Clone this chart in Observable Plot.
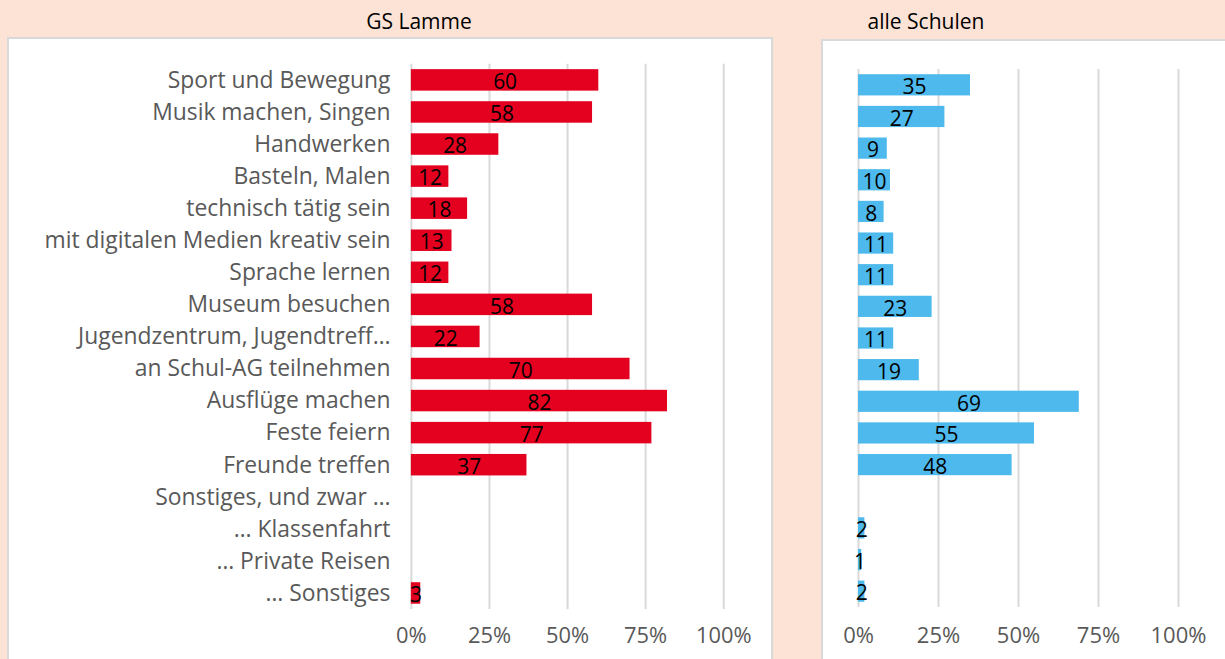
<!DOCTYPE html>
<html>
<head>
<meta charset="utf-8">
<script src="https://cdn.jsdelivr.net/npm/d3@7"></script>
<script src="https://cdn.jsdelivr.net/npm/@observablehq/plot@0.6"></script>
<style>
  html, body { margin: 0; padding: 0; }
  body { width: 1225px; height: 659px; background: #fde3d6; overflow: hidden; position: relative; font-family: "Open Sans", "Noto Sans", sans-serif; }
  .title { position: absolute; top: 7px; font-size: 21px; color: #000; transform: translateX(-50%); white-space: nowrap; }
  .panel { position: absolute; background: #fff; border: 2px solid #d9d9d9; box-sizing: border-box; overflow: hidden; }
  .panel svg { position: absolute; left: -2px; top: -2px; }
</style>
</head>
<body>
<div class="title" style="left:419px">GS Lamme</div>
<div class="title" style="left:926px">alle Schulen</div>
<div class="panel" id="left" style="left:7px; top:37px; width:766px; height:640px"></div>
<div class="panel" id="right" style="left:821px; top:39px; width:420px; height:640px"></div>
<script>
const categories = [
  "Sport und Bewegung",
  "Musik machen, Singen",
  "Handwerken",
  "Basteln, Malen",
  "technisch tätig sein",
  "mit digitalen Medien kreativ sein",
  "Sprache lernen",
  "Museum besuchen",
  "Jugendzentrum, Jugendtreff…",
  "an Schul-AG teilnehmen",
  "Ausflüge machen",
  "Feste feiern",
  "Freunde treffen",
  "Sonstiges, und zwar …",
  "… Klassenfahrt",
  "… Private Reisen",
  "… Sonstiges"
];
const gsLamme = [60, 58, 28, 12, 18, 13, 12, 58, 22, 70, 82, 77, 37, null, null, null, 3];
const alleSchulen = [35, 27, 9, 10, 8, 11, 11, 23, 11, 19, 69, 55, 48, null, 2, 1, 2];
const xTicks = [0, 25, 50, 75, 100];

const font = "'Open Sans', 'Noto Sans', sans-serif";
const pct = d => d + "%";

function makeChart(values, color, opts) {
  const data = categories.map((c, i) => ({cat: c, value: values[i]}));
  const shown = data.filter(d => d.value != null);
  const marks = [
    Plot.gridX(xTicks, {stroke: "#d9d9d9", strokeWidth: 2, strokeOpacity: 1}),
    Plot.barX(shown, {x: "value", y: "cat", fill: color}),
    Plot.text(shown, {x: d => d.value / 2, y: "cat", text: d => String(d.value), fill: "#000", fontSize: 21, dy: 2}),
    Plot.axisX(xTicks, {tickSize: 0, tickPadding: opts.xPad, tickFormat: pct, fill: "#595959", fontSize: 22, label: null})
  ];
  if (opts.showY) {
    marks.push(Plot.axisY({tickSize: 0, tickPadding: 21, fill: "#595959", fontSize: 23, label: null}));
  } else {
    marks.push(Plot.axisY({ticks: [], label: null}));
  }
  return Plot.plot({
    width: opts.width, height: opts.height,
    marginLeft: opts.ml, marginRight: opts.mr, marginTop: opts.mt, marginBottom: opts.mb,
    style: {fontFamily: font, fontSize: "20px", background: "transparent", overflow: "visible"},
    x: {domain: [0, 100]},
    y: {domain: categories, paddingInner: 0.33, paddingOuter: 0.165, round: false},
    marks
  });
}

document.getElementById("left").appendChild(
  makeChart(gsLamme, "#e4001f", {width: 766, height: 622, ml: 406, mr: 46, mt: 27, mb: 47, xPad: 18, showY: true})
);
document.getElementById("right").appendChild(
  makeChart(alleSchulen, "#4db9ec", {width: 404, height: 620, ml: 37, mr: 47, mt: 30, mb: 52, xPad: 20, showY: false})
);
</script>
</body>
</html>
